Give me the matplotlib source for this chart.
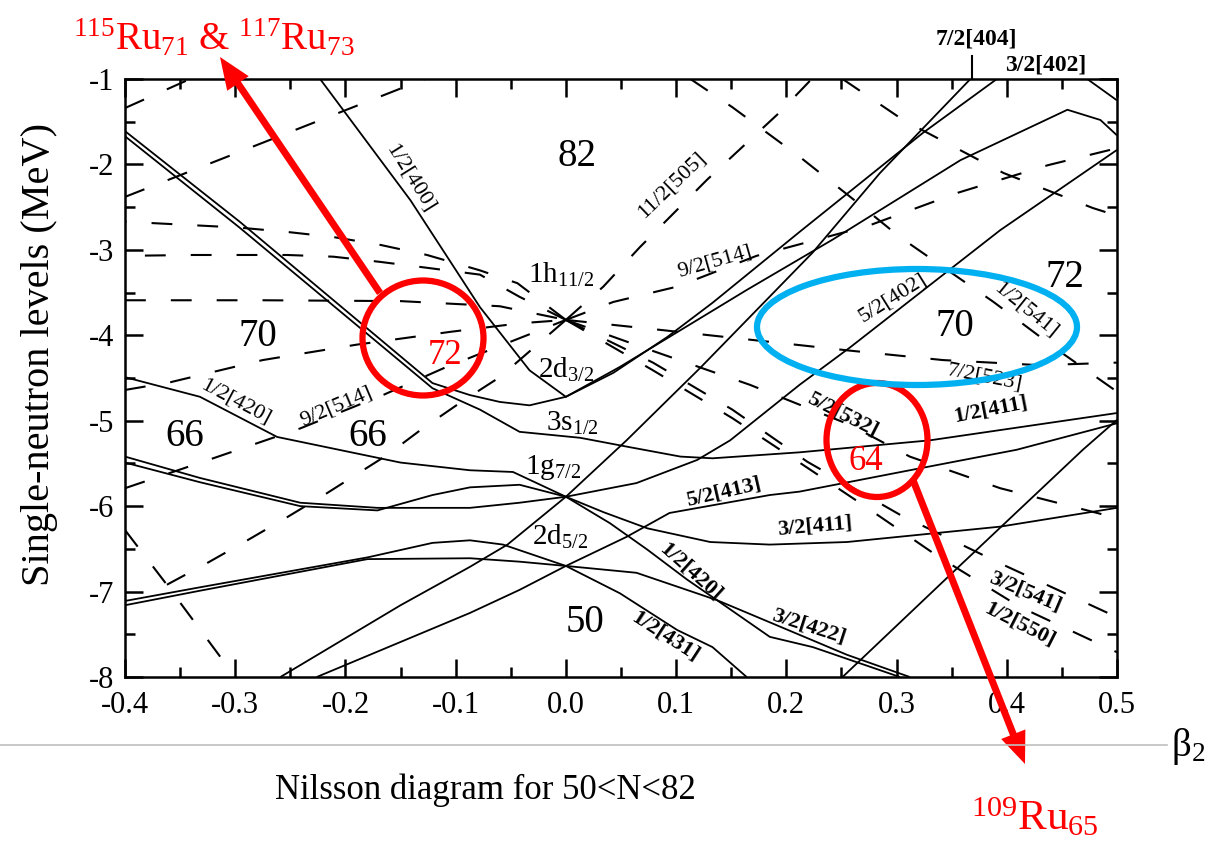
import numpy as np
import matplotlib
matplotlib.use('Agg')
import matplotlib.pyplot as plt
from matplotlib.patches import Ellipse, FancyArrow

plt.rcParams['font.family'] = ['Liberation Serif', 'DejaVu Serif']
plt.rcParams['mathtext.fontset'] = 'custom'
plt.rcParams['mathtext.rm'] = 'Liberation Serif'
plt.rcParams['mathtext.it'] = 'Liberation Serif:italic'
plt.rcParams['axes.unicode_minus'] = False

# ---- positive parity orbitals (solid), points are (beta2, E in MeV) ----
d32_402 = [(-0.40, -1.61), (-0.296, -2.67), (-0.121, -4.56), (-0.087, -4.70), (-0.060, -4.78),
           (-0.033, -4.82), (0.0, -4.72), (0.043, -4.44), (0.092, -4.02), (0.133, -3.62),
           (0.212, -2.79), (0.324, -1.63), (0.391, -1.00)]
s12_411 = [(-0.40, -1.67), (-0.296, -2.74), (-0.121, -4.62), (-0.078, -4.87), (-0.042, -5.13),
           (0.013, -5.20), (0.058, -5.31), (0.104, -5.42), (0.133, -5.44), (0.212, -5.37),
           (0.330, -5.23), (0.50, -4.91)]
d32_400 = [(-0.223, -1.00), (-0.141, -2.42), (-0.078, -3.67), (-0.033, -4.41), (0.0, -4.72),
           (0.049, -4.37), (0.104, -3.94), (0.164, -3.47), (0.242, -2.88), (0.358, -1.95),
           (0.455, -1.36), (0.485, -1.48), (0.50, -1.66)]
g72_404 = [(-0.259, -8.00), (-0.150, -7.16), (-0.087, -6.71), (-0.053, -6.45), (0.0, -5.89),
           (0.055, -5.23), (0.122, -4.38), (0.224, -3.03), (0.285, -2.10), (0.367, -1.00)]
g72_402 = [(0.0, -5.89), (0.064, -5.73), (0.119, -5.46), (0.149, -5.23), (0.212, -4.58),
           (0.258, -4.14), (0.394, -2.77), (0.50, -1.83)]
d52_413 = [(-0.226, -8.00), (-0.087, -7.25), (-0.042, -6.98), (0.0, -6.70), (0.055, -6.36),
           (0.094, -6.08), (0.185, -5.87), (0.212, -5.83), (0.312, -5.58), (0.409, -5.34),
           (0.50, -5.03)]
g72_411 = [(0.0, -5.89), (0.034, -6.07), (0.074, -6.26), (0.131, -6.42), (0.185, -6.45),
           (0.255, -6.42), (0.394, -6.24), (0.50, -6.02)]
g72_420 = [(0.0, -5.89), (0.040, -6.20), (0.074, -6.51), (0.110, -6.86), (0.137, -7.10),
           (0.185, -7.53), (0.224, -7.65), (0.303, -8.00)]
d52_422 = [(0.0, -6.70), (0.064, -6.78), (0.137, -7.10), (0.185, -7.36), (0.255, -7.74),
           (0.312, -8.00)]
d52_431 = [(0.0, -6.70), (0.049, -7.02), (0.101, -7.45), (0.133, -7.65), (0.164, -8.00)]
g72_obl1 = [(-0.40, -4.49), (-0.332, -4.72), (-0.262, -5.19), (-0.150, -5.49), (-0.087, -5.58),
            (-0.048, -5.60), (0.0, -5.89)]
g72_obl2 = [(-0.40, -5.42), (-0.332, -5.67), (-0.241, -5.96), (-0.171, -6.02), (-0.087, -6.02),
            (-0.042, -5.96), (0.0, -5.89)]
g72_obl3 = [(-0.40, -5.49), (-0.332, -5.72), (-0.241, -6.00), (-0.171, -6.05), (-0.121, -5.87),
            (-0.087, -5.78), (-0.042, -5.75), (0.0, -5.89)]
d52_obl1 = [(-0.40, -7.11), (-0.332, -6.95), (-0.180, -6.60), (-0.121, -6.43), (-0.087, -6.40),
            (-0.057, -6.45), (0.0, -6.70)]
d52_obl2 = [(-0.40, -7.16), (-0.332, -6.99), (-0.180, -6.62), (-0.087, -6.61), (-0.042, -6.65),
            (0.0, -6.70)]
g92_404 = [(0.251, -8.00), (0.358, -6.69), (0.469, -5.34), (0.50, -4.99)]
top_right = [(0.473, -1.00), (0.50, -1.25)]

# ---- negative parity orbitals (dashed) ----
h112_505 = [(0.0, -3.82), (0.034, -3.43), (0.067, -2.97), (0.128, -2.18), (0.194, -1.39), (0.223, -1.00)]
h112_514 = [(0.0, -3.82), (0.043, -3.61), (0.101, -3.43), (0.173, -3.07), (0.274, -2.72),
            (0.356, -2.33), (0.437, -2.01), (0.50, -1.81)]
h112_523 = [(0.0, -3.82), (0.088, -3.94), (0.173, -4.06), (0.258, -4.18), (0.342, -4.29),
            (0.430, -4.35), (0.50, -4.32)]
h112_532 = [(0.0, -3.82), (0.076, -4.17), (0.167, -4.58), (0.258, -5.05), (0.312, -5.42),
            (0.394, -5.79), (0.473, -6.05), (0.50, -6.14)]
h112_541 = [(0.0, -3.82), (0.079, -4.32), (0.151, -4.87), (0.219, -5.48), (0.303, -6.10),
            (0.394, -6.67), (0.50, -7.30)]
h112_550 = [(0.0, -3.82), (0.079, -4.41), (0.151, -4.97), (0.219, -5.55), (0.270, -5.99),
            (0.339, -6.60), (0.412, -7.18), (0.50, -7.71)]
f72_541 = [(0.113, -1.00), (0.151, -1.33), (0.212, -1.91), (0.258, -2.38), (0.303, -2.85),
           (0.388, -3.61), (0.446, -4.17), (0.50, -4.66)]
h92_532 = [(0.251, -1.00), (0.306, -1.48), (0.397, -2.10), (0.478, -2.51), (0.50, -2.60)]
h112_obl7 = [(-0.40, -4.64), (-0.359, -4.55), (-0.275, -4.29), (-0.190, -4.11), (-0.105, -3.96),
             (-0.042, -3.86), (0.0, -3.82)]
h112_obl9 = [(-0.40, -5.79), (-0.320, -5.44), (-0.241, -5.09), (-0.166, -4.70), (-0.110, -4.38),
             (0.0, -3.82)]
h112_obl11 = [(-0.362, -6.92), (-0.326, -6.67), (-0.289, -6.40), (-0.253, -6.13), (-0.217, -5.85),
              (-0.162, -5.40), (-0.132, -5.11), (-0.096, -4.79), (-0.060, -4.49), (0.0, -3.82)]
obl_steep = [(-0.40, -6.28), (-0.362, -6.92), (-0.300, -8.00)]
h112_obl5 = [(-0.40, -3.59), (-0.275, -3.59), (-0.150, -3.60), (-0.060, -3.66), (0.0, -3.82)]
h112_obl3 = [(0.0, -3.82), (-0.042, -3.55), (-0.078, -3.29), (-0.126, -3.21), (-0.169, -3.14),
             (-0.211, -3.08), (-0.253, -3.06), (-0.296, -3.06), (-0.338, -3.06), (-0.40, -3.07)]
h112_obl1 = [(0.0, -3.82), (-0.044, -3.39), (-0.078, -3.24), (-0.126, -3.06), (-0.169, -2.94),
             (-0.211, -2.85), (-0.253, -2.79), (-0.296, -2.74), (-0.40, -2.67)]
obl_top1 = [(-0.40, -1.34), (-0.341, -1.00)]
obl_top2 = [(-0.40, -2.38), (-0.128, -1.00)]

solid_orbitals = [d32_402, s12_411, d32_400, g72_404, g72_402, d52_413, g72_411, g72_420,
                  d52_422, d52_431, g72_obl1, g72_obl2, g72_obl3, d52_obl1, d52_obl2,
                  g92_404, top_right]
dashed_orbitals = [h112_505, h112_514, h112_523, h112_532, h112_541, h112_550, f72_541,
                   h92_532, h112_obl7, h112_obl9, h112_obl11, obl_steep, h112_obl5,
                   h112_obl3, h112_obl1, obl_top1, obl_top2]

# asymptotic labels: text, beta2, E, angle, bold
orbit_labels = [
    ('1/2[400]', -0.141, -2.16, -58, False),
    ('11/2[505]', 0.096, -2.24, 44, False),
    ('9/2[514]', 0.135, -3.14, 16, False),
    ('1/2[420]', -0.300, -4.78, -28, False),
    ('9/2[514]', -0.208, -4.83, 23, False),
    ('5/2[402]', 0.297, -3.56, 32, False),
    ('1/2[541]', 0.417, -3.70, -39, False),
    ('7/2[523]', 0.380, -4.49, -11, False),
    ('5/2[532]', 0.251, -4.93, -27, True),
    ('1/2[411]', 0.385, -4.87, 11, True),
    ('5/2[413]', 0.143, -5.83, 13, True),
    ('3/2[411]', 0.226, -6.24, 5, True),
    ('1/2[420]', 0.113, -6.77, -42, True),
    ('3/2[422]', 0.220, -7.41, -18, True),
    ('1/2[431]', 0.090, -7.53, -33, True),
    ('3/2[541]', 0.417, -7.00, -23, True),
    ('1/2[550]', 0.412, -7.39, -27, True),
]
spherical_labels = [
    (r'1h$_{11/2}$', -0.004, -3.29),
    (r'2d$_{3/2}$', 0.0, -4.41),
    (r'3s$_{1/2}$', 0.006, -5.03),
    (r'1g$_{7/2}$', -0.012, -5.55),
    (r'2d$_{5/2}$', -0.005, -6.36),
]
magic_labels = [('82', 0.010, -1.91), ('70', -0.279, -4.02), ('66', -0.346, -5.19),
                ('66', -0.180, -5.19), ('50', 0.017, -7.36), ('72', 0.453, -3.32),
                ('70', 0.353, -3.90)]

beta_ticks = [-0.4, -0.3, -0.2, -0.1, 0.0, 0.1, 0.2, 0.3, 0.4, 0.5]
energy_ticks = [-8, -7, -6, -5, -4, -3, -2, -1]

fig = plt.figure(figsize=(12.26, 8.42), dpi=100)
ax = fig.add_axes([125 / 1226, 1 - 677 / 842, 992 / 1226, 598 / 842])

for orb in solid_orbitals:
    b, e = zip(*orb)
    ax.plot(b, e, color='black', lw=1.3, solid_capstyle='butt')
for orb in dashed_orbitals:
    b, e = zip(*orb)
    ax.plot(b, e, color='black', lw=1.5, linestyle=(0, (10, 12)))

ax.set_xlim(-0.4, 0.5)
ax.set_ylim(-8, -1)
ax.set_xticks(beta_ticks)
ax.set_xticklabels(['%.1f' % abs(v) if v == 0 else '%.1f' % v for v in beta_ticks])
ax.set_xticks([v + 0.05 for v in beta_ticks[:-1]], minor=True)
ax.set_yticks(energy_ticks)
ax.set_yticklabels(['%d' % v for v in energy_ticks])
ax.set_yticks([v + 0.5 for v in energy_ticks[:-1]], minor=True)
ax.tick_params(which='both', direction='in', top=True, right=True, width=1.8, labelsize=22)
ax.tick_params(axis='x', pad=10)
ax.tick_params(axis='y', pad=8)
ax.tick_params(which='major', length=13)
ax.tick_params(which='minor', length=7)
for sp in ax.spines.values():
    sp.set_linewidth(1.8)

for txt, b, e, ang, bold in orbit_labels:
    ax.text(b, e, txt, fontsize=16, rotation=ang, ha='center', va='center',
            fontweight='bold' if bold else 'normal', rotation_mode='anchor')
for txt, b, e in spherical_labels:
    ax.text(b, e, txt, fontsize=21, ha='center', va='center')
for txt, b, e in magic_labels:
    ax.text(b, e, txt, fontsize=28, ha='center', va='center')

# labels for orbitals leaving through the top
ax.plot([0.368, 0.368], [-1.0, -0.73], color='black', lw=1.5, clip_on=False)
ax.text(0.372, -0.53, '7/2[404]', fontsize=17, fontweight='bold', ha='center', va='center')
ax.text(0.435, -0.84, '3/2[402]', fontsize=17, fontweight='bold', ha='center', va='center')

fig.text(40 / 1226, 1 - 355 / 842, 'Single-neutron levels (MeV)', rotation=90,
         fontsize=29, ha='center', va='center')

# overlay in pixel units for the highlight marks
ov = fig.add_axes([0, 0, 1, 1], zorder=5)
ov.set_xlim(0, 1226)
ov.set_ylim(842, 0)
ov.axis('off')
ov.patch.set_alpha(0)

ov.plot([0, 1167], [745, 745], color='#bfbfbf', lw=1.2)
ov.text(1171, 756, r'β$_2$', fontsize=28, ha='left', va='baseline')
ov.text(485, 790, 'Nilsson diagram for 50<N<82', fontsize=25, ha='center', va='center')

red = '#ff0000'
ov.add_patch(Ellipse((423, 338), 121, 115, fill=False, ec=red, lw=4.5))
ov.add_patch(Ellipse((877, 440), 101, 114, fill=False, ec=red, lw=4.5))
ov.add_patch(Ellipse((917, 327), 320, 116, fill=False, ec='#00b0f0', lw=4.5))
ov.text(445, 355, '72', color=red, fontsize=25, ha='center', va='center')
ov.text(866, 462, '64', color=red, fontsize=25, ha='center', va='center')

ov.add_patch(FancyArrow(380, 293, 220 - 380, 57 - 293, width=7, head_width=26, head_length=32,
                        length_includes_head=True, color=red, lw=0))
ov.add_patch(FancyArrow(913, 480, 1025 - 913, 764 - 480, width=7, head_width=26, head_length=32,
                        length_includes_head=True, color=red, lw=0))
ov.text(73, 50, r'$^{115}$Ru$_{71}$ & $^{117}$Ru$_{73}$', color=red, fontsize=28,
        ha='left', va='baseline')
ov.text(971, 830, r'$^{109}$Ru$_{65}$', color=red, fontsize=31, ha='left', va='baseline')

fig.savefig('out.png', dpi=100)
